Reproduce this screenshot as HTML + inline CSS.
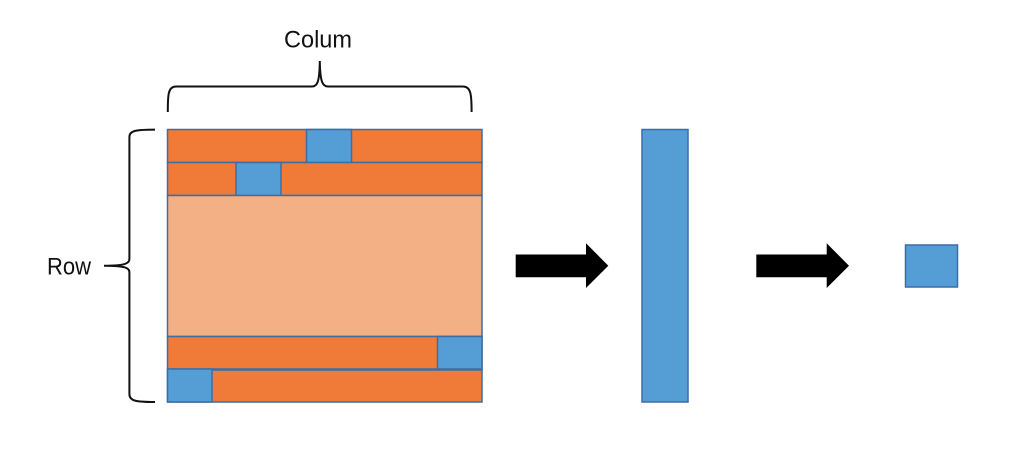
<!DOCTYPE html>
<html>
<head>
<meta charset="utf-8">
<style>
html,body{margin:0;padding:0;background:#fff;}
svg{display:block;}
text{font-family:"Liberation Sans",sans-serif;font-size:24px;fill:#111;}
</style>
</head>
<body>
<svg width="1024" height="472" viewBox="0 0 1024 472" xmlns="http://www.w3.org/2000/svg">
<rect width="1024" height="472" fill="#fff"/>
<g stroke="#3a6ea5" stroke-width="1.5">
<rect x="167.5" y="129.5" width="314.5" height="33" fill="#f07a38"/>
<rect x="306.5" y="129.5" width="45" height="33" fill="#559dd5"/>
<rect x="167.5" y="162.5" width="314.5" height="33" fill="#f07a38"/>
<rect x="236" y="162.5" width="45" height="33" fill="#559dd5"/>
<rect x="167.5" y="195.5" width="314.5" height="141" fill="#f4b085"/>
<rect x="167.5" y="336.5" width="314.5" height="32.5" fill="#f07a38"/>
<rect x="437.5" y="336.5" width="44.5" height="32.5" fill="#559dd5"/>
<rect x="167.5" y="370" width="314.5" height="32" fill="#f07a38"/>
<rect x="167.5" y="369" width="44.5" height="33" fill="#559dd5"/>
<rect x="642" y="129.5" width="46" height="272.5" fill="#559dd5"/>
<rect x="905.5" y="245" width="52" height="42" fill="#559dd5"/>
</g>
<path d="M515.7 254.5H586V243.3L608.3 265.7L586 288V277.3H515.7Z" fill="#000"/>
<path d="M756.3 254.5H826.7V243.3L849 265.7L826.7 288V277.3H756.3Z" fill="#000"/>
<g fill="none" stroke="#111" stroke-width="2">
<path d="M167.8 112C167.8 95 168 86.5 176 86.5H312C317 86.5 319.5 83 319.8 61C320.1 83 323 86.5 328 86.5H463C471 86.5 471.6 95 471.6 112"/>
<path d="M155 129.6C136 129.6 129.4 130.5 129.4 137V259C129.4 263.5 125 265.7 104 265.7C125 265.7 129.4 268 129.4 272V394C129.4 401 136 402 155 402"/>
</g>
<text x="284" y="47.5" textLength="68" lengthAdjust="spacingAndGlyphs">Colum</text>
<text x="47" y="274.5" textLength="44" lengthAdjust="spacingAndGlyphs">Row</text>
</svg>
</body>
</html>
